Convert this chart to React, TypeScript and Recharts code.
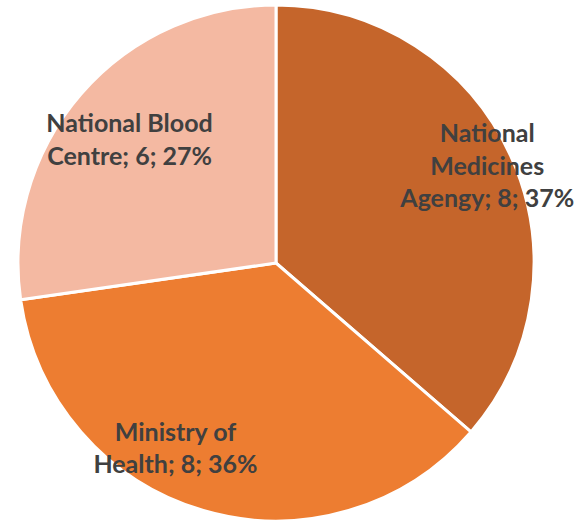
import { PieChart, Pie, Cell } from "recharts";

const agencies = ["National Medicines Agengy", "Ministry of Health", "National Blood Centre"];
const counts = [8, 8, 6];
const shares = ["37%", "36%", "27%"];
const labelLines = [
  ["National", "Medicines", "Agengy; 8; 37%"],
  ["Ministry of", "Health; 8; 36%"],
  ["National Blood", "Centre; 6; 27%"],
];

const COLORS = ["#C5652B", "#ED7D31", "#F4B9A2"];

// where Excel put each label: fraction of radius + angle nudge (deg)
const LABEL_POS = [
  { r: 0.9, da: 0 },
  { r: 0.82, da: -12 },
  { r: 0.74, da: 1 },
];

const RAD = Math.PI / 180;
const LINE_H = 32.5;

function renderLabel(props: any) {
  const { cx, cy, midAngle, outerRadius, index } = props;
  const pos = LABEL_POS[index];
  const a = (midAngle + pos.da) * RAD;
  const x = cx + outerRadius * pos.r * Math.cos(a);
  const y = cy - outerRadius * pos.r * Math.sin(a);
  const lines = labelLines[index];
  const first = y - ((lines.length - 1) * LINE_H) / 2 + 8;
  return (
    <text
      x={x}
      y={first}
      textAnchor="middle"
      fill="#404040"
      fontFamily="Lato, sans-serif"
      fontWeight="bold"
      fontSize={25}
    >
      {lines.map((ln, i) => (
        <tspan key={i} x={x} y={first + i * LINE_H}>
          {ln}
        </tspan>
      ))}
    </text>
  );
}

export default function App() {
  const rows = agencies.map((name, i) => ({ name, value: counts[i], share: shares[i] }));

  return (
    <div style={{ position: "absolute", left: 0, top: 0, width: 575, height: 520, background: "#fff" }}>
      <PieChart width={575} height={520} margin={{ top: 0, right: 0, bottom: 0, left: 0 }}>
        <Pie
          data={rows}
          dataKey="value"
          nameKey="name"
          cx={276}
          cy={263}
          outerRadius={258}
          startAngle={90}
          endAngle={-270}
          stroke="#ffffff"
          strokeWidth={3}
          label={renderLabel}
          labelLine={false}
          isAnimationActive={false}
        >
          {rows.map((r, i) => (
            <Cell key={r.name} fill={COLORS[i]} />
          ))}
        </Pie>
      </PieChart>
    </div>
  );
}
